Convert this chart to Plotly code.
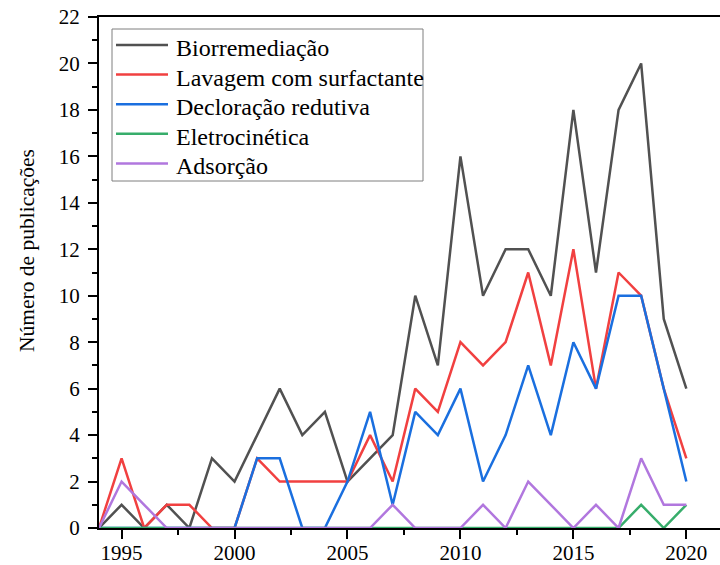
import plotly.graph_objects as go

years = list(range(1994, 2021))

biorremediacao = [0, 1, 0, 1, 0, 3, 2, 4, 6, 4, 5, 2, 3, 4, 10, 7, 16, 10, 12, 12, 10, 18, 11, 18, 20, 9, 6]
lavagem = [0, 3, 0, 1, 1, 0, 0, 3, 2, 2, 2, 2, 4, 2, 6, 5, 8, 7, 8, 11, 7, 12, 6, 11, 10, 6, 3]
decloracao = [0, 0, 0, 0, 0, 0, 0, 3, 3, 0, 0, 2, 5, 1, 5, 4, 6, 2, 4, 7, 4, 8, 6, 10, 10, 6, 2]
eletrocinetica = [0, 0, 0, 0, 0, 0, 0, 0, 0, 0, 0, 0, 0, 0, 0, 0, 0, 0, 0, 0, 0, 0, 0, 0, 1, 0, 1]
adsorcao = [0, 2, 1, 0, 0, 0, 0, 0, 0, 0, 0, 0, 0, 1, 0, 0, 0, 1, 0, 2, 1, 0, 1, 0, 3, 1, 1]

series_names = ["Biorremediação", "Lavagem com surfactante", "Decloração redutiva",
                "Eletrocinética", "Adsorção"]
series_values = [biorremediacao, lavagem, decloracao, eletrocinetica, adsorcao]
colors = ["#515151", "#F14040", "#1A6FDF", "#37AD6B", "#B177DE"]

FONT = "Liberation Serif"

W, H = 720, 565
ml, mr, mt, mb = 99, 0, 17, 37
pw = W - ml - mr
ph = H - mt - mb


def px_x(p):
    return (p - ml) / pw


def px_y(p):
    return 1 - (p - mt) / ph


fig = go.Figure()
for name, vals, col in zip(series_names, series_values, colors):
    fig.add_trace(go.Scatter(x=years, y=vals, mode="lines", name=name,
                             line=dict(color=col, width=2.5), showlegend=False))

# Boxed legend (drawn in pixel layout space)
shapes = [dict(type="rect", xref="paper", yref="paper",
               x0=px_x(112), x1=px_x(423), y0=px_y(29), y1=px_y(181),
               line=dict(color="#7f7f7f", width=1), fillcolor="rgba(0,0,0,0)")]
annotations = []
for i, (name, col) in enumerate(zip(series_names, colors)):
    yl = 45 + i * 29.6
    shapes.append(dict(type="line", xref="paper", yref="paper",
                       x0=px_x(116), x1=px_x(168), y0=px_y(yl), y1=px_y(yl),
                       line=dict(color=col, width=2.5)))
    annotations.append(dict(text=name, xref="paper", yref="paper",
                            x=px_x(174), y=px_y(yl + 3),
                            xanchor="left", yanchor="middle", showarrow=False,
                            font=dict(family=FONT, size=24, color="black")))

annotations.append(dict(
    text="Número de publicações", textangle=-90,
    xref="paper", yref="paper",
    x=px_x(27), y=px_y(251),
    xanchor="center", yanchor="middle", showarrow=False,
    font=dict(family=FONT, size=21.5, color="black"),
))

fig.update_layout(
    width=W, height=H,
    margin=dict(l=ml, r=mr, t=mt, b=mb, pad=0, autoexpand=False),
    paper_bgcolor="white", plot_bgcolor="white",
    font=dict(family=FONT, color="black", size=21),
    showlegend=False,
    xaxis=dict(
        range=[1994, 1994 + pw / 22.59],
        automargin=False,
        showgrid=False, zeroline=False,
        showline=True, linecolor="black", linewidth=2, mirror=True,
        ticks="outside", ticklen=9, tickwidth=2, tickcolor="black",
        tick0=1995, dtick=5,
        minor=dict(ticks="outside", ticklen=5, tickwidth=2, tickcolor="black",
                   tick0=1995, dtick=2.5, showgrid=False),
        tickfont=dict(family=FONT, size=21, color="black"),
        ticklabelstandoff=-4,
        layer="below traces",
    ),
    yaxis=dict(
        range=[0, 22],
        automargin=False,
        showgrid=False, zeroline=False,
        showline=True, linecolor="black", linewidth=2, mirror=False,
        ticks="outside", ticklen=9, tickwidth=2, tickcolor="black",
        tick0=0, dtick=2,
        minor=dict(ticks="outside", ticklen=5, tickwidth=2, tickcolor="black",
                   tick0=0, dtick=1, showgrid=False),
        tickfont=dict(family=FONT, size=21, color="black"),
        ticklabelstandoff=4,
        layer="below traces",
    ),
    shapes=shapes,
    annotations=annotations,
)

fig.write_html("out.html")
